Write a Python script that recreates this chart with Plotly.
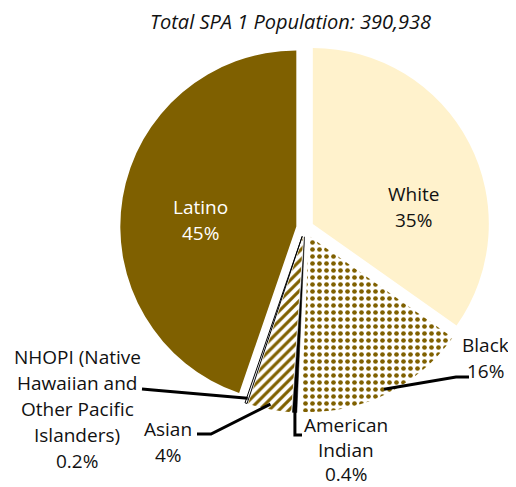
import math
import plotly.graph_objects as go

# ---- data ----
categories = ["White", "Black", "American Indian", "Asian",
              "NHOPI (Native Hawaiian and Other Pacific Islanders)", "Latino"]
label_lines = [["White"], ["Black"], ["American", "Indian"], ["Asian"],
               ["NHOPI (Native", "Hawaiian and", "Other Pacific", "Islanders)"], ["Latino"]]
values = [35, 16, 0.4, 4, 0.2, 45]
title_text = "Total SPA 1 Population: 390,938"

# ---- style ----
W, H = 516, 487
OFF = 8                    # page body margin (window px -> figure px)
CX, CY = 305, 228          # pie centre in window pixels
R = 176                    # pie radius in pixels
PULL = 0.05
FONT = "Open Sans"
FS = 19

OLIVE = "#7F6000"
CREAM = "#FFF2CC"

slice_colors = [CREAM, "#FFFFFF", "#000000", "#FFFFFF", "#FFFFFF", OLIVE]
pattern_shapes = ["", ".", "", "/", "", ""]
pattern_fg = [CREAM, OLIVE, "#000000", OLIVE, "#FFFFFF", OLIVE]
pattern_bg = [CREAM, "#FFFFFF", "#000000", "#FFFFFF", "#FFFFFF", OLIVE]
line_colors = ["#FFFFFF", "#FFFFFF", "#000000", "#FFFFFF", "#000000", "#FFFFFF"]
line_widths = [0, 0, 0.5, 0, 1, 0]

label_pos = [(413, 194), (485, 345), (346, 425), (168, 429), (77, 357), (200, 207)]
label_gap = [26, 26, 24.5, 26, 26, 26]
label_colors = ["#111111", "#111111", "#111111", "#111111", "#111111", "#FFFFFF"]
# leader line elbows/ends (window pixels); None = no leader
leaders = [None,
           [(456, 377), (469, 377)],
           [("sx", 435), (302, 435)],
           [(211, 434), (197, 434)],
           [(153, 390), (142, 389)],
           None]


def px2paper(x, y):
    return (x - OFF) / W, 1 - (y - OFF) / H


half = R * (1 + PULL)
dom_x = [(CX - OFF - half) / W, (CX - OFF + half) / W]
dom_y = [(H - (CY - OFF) - half) / H, (H - (CY - OFF) + half) / H]

fig = go.Figure(go.Pie(
    labels=categories,
    values=values,
    sort=False,
    direction="clockwise",
    rotation=0,
    pull=[PULL] * len(values),
    textinfo="none",
    hoverinfo="label+percent",
    showlegend=False,
    domain=dict(x=dom_x, y=dom_y),
    marker=dict(
        colors=slice_colors,
        line=dict(color=line_colors, width=line_widths),
        pattern=dict(shape=pattern_shapes, fgcolor=pattern_fg, bgcolor=pattern_bg,
                     size=[8, 7, 8, 7, 8, 8], solidity=[0.3, 0.35, 0.3, 0.45, 0.3, 0.3],
                     fillmode="replace"),
    ),
))

total = sum(values)
annotations = []
shapes = []

# title
tx, ty = px2paper(290, 21)
annotations.append(dict(text="<i>" + title_text + "</i>", x=tx, y=ty, xref="paper", yref="paper",
                        xanchor="center", yanchor="middle", showarrow=False,
                        font=dict(family=FONT, size=20, color="#111111")))

cum = 0.0
for i, v in enumerate(values):
    mid = (cum + v / 2) / total * 2 * math.pi
    cum += v
    lines = label_lines[i] + [f"{v:g}%"]
    lx, ly = label_pos[i]
    for k, t in enumerate(lines):
        ax, ay = px2paper(lx, ly + k * label_gap[i])
        annotations.append(dict(text=t, x=ax, y=ay, xref="paper", yref="paper",
                                xanchor="center", yanchor="middle", showarrow=False,
                                borderpad=0,
                                font=dict(family=FONT, size=FS, color=label_colors[i])))
    if leaders[i]:
        vx = CX + PULL * R * math.sin(mid)
        vy = CY - PULL * R * math.cos(mid)
        sx = vx + 0.97 * R * math.sin(mid)
        sy = vy - 0.97 * R * math.cos(mid)
        pts = [(sx, sy)] + [((sx if p[0] == "sx" else p[0]), p[1]) for p in leaders[i]]
        path = ""
        for j, (x, y) in enumerate(pts):
            X, Y = px2paper(x, y)
            path += ("M" if j == 0 else " L") + f"{X:.5f},{Y:.5f}"
        shapes.append(dict(type="path", path=path, xref="paper", yref="paper",
                           line=dict(color="#000000", width=3)))

fig.update_layout(
    width=W, height=H,
    margin=dict(l=0, r=0, t=0, b=0),
    paper_bgcolor="#FFFFFF",
    plot_bgcolor="#FFFFFF",
    annotations=annotations,
    shapes=shapes,
    font=dict(family=FONT),
)

fig.write_html("out.html")
